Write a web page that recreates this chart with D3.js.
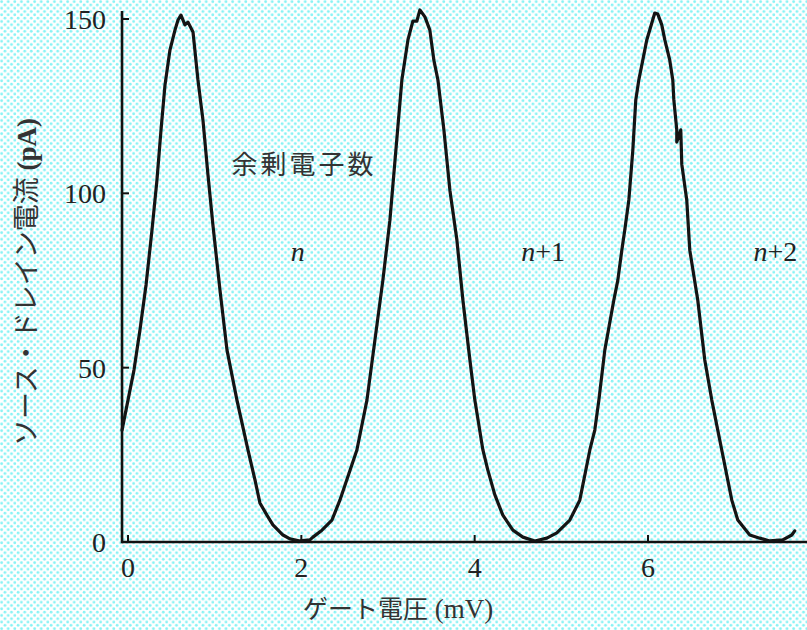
<!DOCTYPE html>
<html>
<head>
<meta charset="utf-8">
<script src="https://cdn.jsdelivr.net/npm/d3@7"></script>
<style>
  html, body { margin: 0; padding: 0; background: #fff; }
  svg { display: block; }
</style>
</head>
<body>
<svg id="chart" width="807" height="630"></svg>
<script>
// Gate voltage (mV) and source-drain current (pA) along the measured trace
const gateVoltage = [
  -0.069, 0.000, 0.069, 0.138, 0.208, 0.277, 0.334, 0.381, 0.427, 0.484,
  0.542, 0.577, 0.611, 0.657, 0.692, 0.750, 0.807, 0.865, 0.923, 0.980,
  1.061, 1.142, 1.257, 1.384, 1.465, 1.522, 1.603, 1.672, 1.788, 1.869,
  1.984, 2.099, 2.134, 2.238, 2.353, 2.445, 2.641, 2.757, 2.849, 2.941,
  3.022, 3.091, 3.160, 3.230, 3.287, 3.333, 3.368, 3.426, 3.483, 3.529,
  3.576, 3.645, 3.714, 3.795, 3.864, 3.945, 4.002, 4.095, 4.152, 4.233,
  4.325, 4.441, 4.556, 4.694, 4.833, 4.948, 5.098, 5.213, 5.329, 5.386,
  5.433, 5.502, 5.606, 5.652, 5.698, 5.732, 5.779, 5.825, 5.859, 5.894,
  5.940, 5.986, 6.078, 6.113, 6.159, 6.194, 6.251, 6.286, 6.298, 6.332,
  6.332, 6.378, 6.390, 6.447, 6.482, 6.574, 6.655, 6.736, 6.805, 6.851,
  6.920, 6.967, 7.036, 7.174, 7.290, 7.405, 7.555, 7.659, 7.693
];
const current = [
  32.1, 40.7, 49.3, 60.8, 73.7, 89.5, 103.8, 118.2, 131.1, 141.1,
  146.8, 149.7, 151.1, 148.3, 149.1, 146.3, 132.5, 121.0, 105.2, 90.9,
  72.3, 55.1, 40.7, 26.4, 17.8, 11.2, 7.7, 4.9, 2.0, 0.9,
  0.3, 0.6, 1.4, 3.4, 6.3, 12.0, 26.4, 40.7, 57.9, 75.1,
  92.3, 112.4, 132.5, 144.0, 149.4, 149.4, 152.6, 150.6, 146.8, 138.2,
  132.5, 118.2, 100.9, 86.6, 69.4, 52.2, 40.7, 26.4, 20.6, 13.5,
  7.7, 3.4, 1.4, 0.3, 1.1, 2.6, 6.3, 12.0, 26.4, 32.1,
  40.7, 55.1, 69.4, 75.1, 83.7, 89.5, 98.1, 112.4, 126.8, 132.5,
  138.2, 144.0, 151.7, 151.4, 148.3, 144.0, 138.2, 132.5, 126.8, 118.2,
  114.7, 118.2, 108.3, 98.1, 83.7, 69.4, 52.2, 40.7, 32.1, 26.4,
  17.8, 12.0, 6.3, 2.0, 1.1, 0.3, 0.6, 2.0, 3.2
];

const xTicks = [0, 2, 4, 6];
const yTicks = [0, 50, 100, 150];

// Electron-number labels placed over each conduction window
const electronLabels = [
  { base: "n", suffix: "", v: 1.96 },
  { base: "n", suffix: "+1", v: 4.79 },
  { base: "n", suffix: "+2", v: 7.47 }
];

const svg = d3.select("#chart");
const W = 807, H = 630;

// Dotted cyan screen-tone background
const defs = svg.append("defs");
const pat = defs.append("pattern")
  .attr("id", "tone")
  .attr("patternUnits", "userSpaceOnUse")
  .attr("width", 6.6).attr("height", 6.6);
pat.append("rect").attr("width", 6.6).attr("height", 6.6).attr("fill", "#ffffff");
pat.append("circle").attr("cx", 1.6).attr("cy", 1.6).attr("r", 1.4).attr("fill", "#86f2f4");
pat.append("circle").attr("cx", 4.9).attr("cy", 4.9).attr("r", 1.4).attr("fill", "#86f2f4");
svg.append("rect").attr("width", W).attr("height", H).attr("fill", "url(#tone)");

// Scales
const x = d3.scaleLinear().domain([0, 6]).range([128, 648]);
const y = d3.scaleLinear().domain([0, 150]).range([542, 19]);
const xLeft = x(-0.069);
const yTop = 11;

// Axes lines
const axisColor = "#111";
svg.append("line")
  .attr("x1", xLeft).attr("x2", W).attr("y1", y(0)).attr("y2", y(0))
  .attr("stroke", axisColor).attr("stroke-width", 2.6);
svg.append("line")
  .attr("x1", xLeft).attr("x2", xLeft).attr("y1", yTop).attr("y2", y(0) + 1.3)
  .attr("stroke", axisColor).attr("stroke-width", 2.6);

// Inward ticks
svg.append("g").selectAll("line").data(xTicks).join("line")
  .attr("x1", d => x(d)).attr("x2", d => x(d))
  .attr("y1", y(0)).attr("y2", y(0) - 7)
  .attr("stroke", axisColor).attr("stroke-width", 2);
svg.append("g").selectAll("line").data(yTicks.filter(d => d > 0)).join("line")
  .attr("x1", xLeft).attr("x2", xLeft + 7)
  .attr("y1", d => y(d)).attr("y2", d => y(d))
  .attr("stroke", axisColor).attr("stroke-width", 2);

// Tick labels
const numFont = "'Liberation Serif', 'DejaVu Serif', serif";
svg.append("g").selectAll("text").data(xTicks).join("text")
  .attr("x", d => x(d)).attr("y", 577)
  .attr("text-anchor", "middle")
  .attr("font-family", numFont).attr("font-size", 28).attr("fill", "#222")
  .text(d => d);
svg.append("g").selectAll("text").data(yTicks).join("text")
  .attr("x", 106).attr("y", d => y(d) + 10)
  .attr("text-anchor", "end")
  .attr("font-family", numFont).attr("font-size", 28).attr("fill", "#222")
  .text(d => d);

// The measured trace
const line = d3.line()
  .x((d, i) => x(gateVoltage[i]))
  .y(d => y(d))
  .curve(d3.curveLinear);
svg.append("path")
  .datum(current)
  .attr("d", line)
  .attr("fill", "none")
  .attr("stroke", "#141414")
  .attr("stroke-width", 3.2)
  .attr("stroke-linejoin", "round")
  .attr("stroke-linecap", "round");

// Axis titles
const jpFont = "'Noto Sans CJK JP', 'Noto Sans', sans-serif";
const xTitle = svg.append("text")
  .attr("x", 398).attr("y", 618)
  .attr("text-anchor", "middle")
  .attr("font-family", jpFont).attr("font-size", 25).attr("fill", "#333");
xTitle.append("tspan").text("ゲート電圧");
xTitle.append("tspan").attr("font-family", numFont).attr("font-size", 27).text(" (mV)");

const yTitle = svg.append("text")
  .attr("transform", "translate(36,282) rotate(-90)")
  .attr("text-anchor", "middle")
  .attr("font-family", jpFont).attr("font-size", 27).attr("fill", "#333");
yTitle.append("tspan").text("ソース・ドレイン電流");
yTitle.append("tspan").attr("font-family", numFont).attr("font-weight", "bold").attr("font-size", 27).text(" (pA)");

// Annotation: excess electron number
svg.append("text")
  .attr("x", 304).attr("y", 174)
  .attr("text-anchor", "middle")
  .attr("font-family", jpFont).attr("font-size", 26).attr("fill", "#333")
  .attr("letter-spacing", 3)
  .text("余剰電子数");

const lbl = svg.append("g").selectAll("text").data(electronLabels).join("text")
  .attr("x", d => x(d.v)).attr("y", 261)
  .attr("text-anchor", "middle")
  .attr("font-family", numFont).attr("font-size", 28).attr("fill", "#222");
lbl.append("tspan").attr("font-style", "italic").text(d => d.base);
lbl.append("tspan").text(d => d.suffix);
</script>
</body>
</html>
